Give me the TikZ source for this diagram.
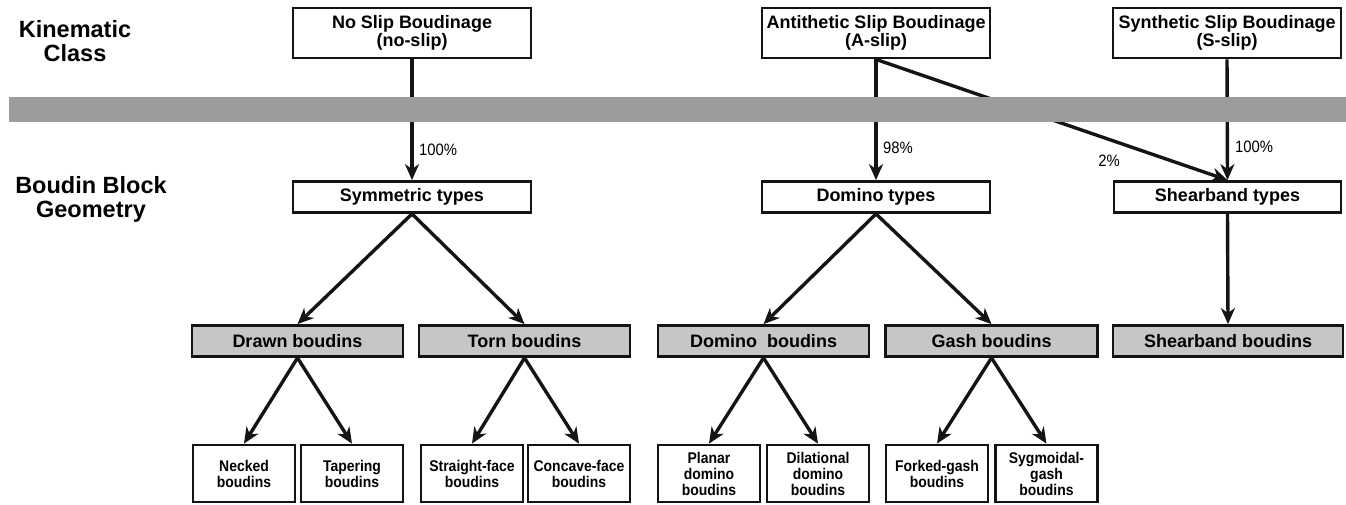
\documentclass[tikz,border=0pt]{standalone}
\usepackage{fontspec}
\setmainfont{Liberation Sans}
\newfontfamily\narrowsans[FakeStretch=0.9]{Liberation Sans}
\usetikzlibrary{arrows.meta}
\definecolor{boudcolor0001}{RGB}{20,20,20}
\definecolor{boudcolor0002}{RGB}{198,198,198}
\definecolor{boudcolor0003}{RGB}{156,156,156}

\begin{document}
\begin{tikzpicture}[x=1pt,y=-1pt
            ,pstyle0/.style={draw=boudcolor0001,fill=white,line width=2.8pt,inner sep=0pt,align=center,font=\bfseries\fontsize{18}{18.5}\selectfont}
            ,pstyle1/.style={pstyle0,fill=boudcolor0002}
            ,pstyle2/.style={pstyle0,minimum width=102pt,minimum height=57pt,font=\narrowsans\bfseries\fontsize{15.5}{16}\selectfont}
            ,pstyle3/.style={color=boudcolor0001,line width=3.4pt,-{Stealth[length=16pt,width=14pt,inset=5pt]}}
            ,pstyle4/.style={inner sep=0pt,font=\narrowsans\fontsize{16.5}{17}\selectfont}
            ,pstyle5/.style={inner sep=0pt,align=center,font=\bfseries\fontsize{23.5}{24}\selectfont}
        ]
        \useasboundingbox (0,0) rectangle (1346,504);
        % side labels
        \node[pstyle5] (kinlabel) at (75,41) {Kinematic\\Class};
        \node[pstyle5] (geolabel) at (91,199) {Boudin Block\\Geometry};
        % kinematic class
        \node[pstyle0,minimum width=238pt,minimum height=50pt] (noslip) at (412,33) {No Slip Boudinage\\(no-slip)};
        \node[pstyle0,minimum width=228pt,minimum height=50pt] (aslip) at (876,33) {Antithetic Slip Boudinage\\(A-slip)};
        \node[pstyle0,minimum width=228pt,minimum height=50pt] (sslip) at (1227,33) {Synthetic Slip Boudinage\\(S-slip)};
        % block geometry
        \node[pstyle0,minimum width=238pt,minimum height=31pt] (symtypes) at (412,197) {Symmetric types};
        \node[pstyle0,minimum width=228pt,minimum height=31pt] (domtypes) at (876,197) {Domino types};
        \node[pstyle0,minimum width=227pt,minimum height=31pt] (sheartypes) at (1227.5,197) {Shearband types};
        \node[pstyle1,minimum width=211pt,minimum height=31pt] (drawn) at (297.5,341) {Drawn boudins};
        \node[pstyle1,minimum width=211pt,minimum height=31pt] (torn) at (524.5,341) {Torn boudins};
        \node[pstyle1,minimum width=211pt,minimum height=31pt] (domino) at (763.5,341) {Domino\ \ boudins};
        \node[pstyle1,minimum width=212pt,minimum height=31pt] (gash) at (991.5,341) {Gash boudins};
        \node[pstyle1,minimum width=230pt,minimum height=31pt] (shearbound) at (1228,341) {Shearband boudins};
        \node[pstyle2] (necked) at (244,473.5) {Necked\\boudins};
        \node[pstyle2] (tapering) at (352,473.5) {Tapering\\boudins};
        \node[pstyle2] (straight) at (472,473.5) {Straight-face\\boudins};
        \node[pstyle2] (concave) at (579,473.5) {Concave-face\\boudins};
        \node[pstyle2] (planar) at (709,473.5) {Planar\\domino\\boudins};
        \node[pstyle2] (dilational) at (818,473.5) {Dilational\\domino\\boudins};
        \node[pstyle2] (forked) at (937,473.5) {Forked-gash\\boudins};
        \node[pstyle2] (sygmoidal) at (1046.5,473.5) {Sygmoidal-\\gash\\boudins};
        % connectors
        \draw[pstyle3] (noslip.south) -- (symtypes.north);
        \draw[pstyle3] (aslip.south) -- (domtypes.north);
        \draw[pstyle3] (aslip.south) -- (sheartypes.north);
        \draw[pstyle3] (sslip.south) -- (sheartypes.north);
        \draw[pstyle3] (symtypes.south) -- (drawn.north);
        \draw[pstyle3] (symtypes.south) -- (torn.north);
        \draw[pstyle3] (domtypes.south) -- (domino.north);
        \draw[pstyle3] (domtypes.south) -- (gash.north);
        \draw[pstyle3] (sheartypes.south) -- (shearbound.north);
        \draw[pstyle3] (drawn.south) -- (necked.north);
        \draw[pstyle3] (drawn.south) -- (tapering.north);
        \draw[pstyle3] (torn.south) -- (straight.north);
        \draw[pstyle3] (torn.south) -- (concave.north);
        \draw[pstyle3] (domino.south) -- (planar.north);
        \draw[pstyle3] (domino.south) -- (dilational.north);
        \draw[pstyle3] (gash.south) -- (forked.north);
        \draw[pstyle3] (gash.south) -- (sygmoidal.north);
        % band between the two levels
        \fill[boudcolor0003] (9,97) rectangle (1346,122);
        \node[pstyle4,anchor=west] (pcnoslip) at (419,150) {100\%};
        \node[pstyle4,anchor=west] (pcanti) at (883,148) {98\%};
        \node[pstyle4,anchor=west] (pcsyn) at (1235,147) {100\%};
        \node[pstyle4] (pcsmall) at (1109,161) {2\%};
    \end{tikzpicture}
\end{document}
